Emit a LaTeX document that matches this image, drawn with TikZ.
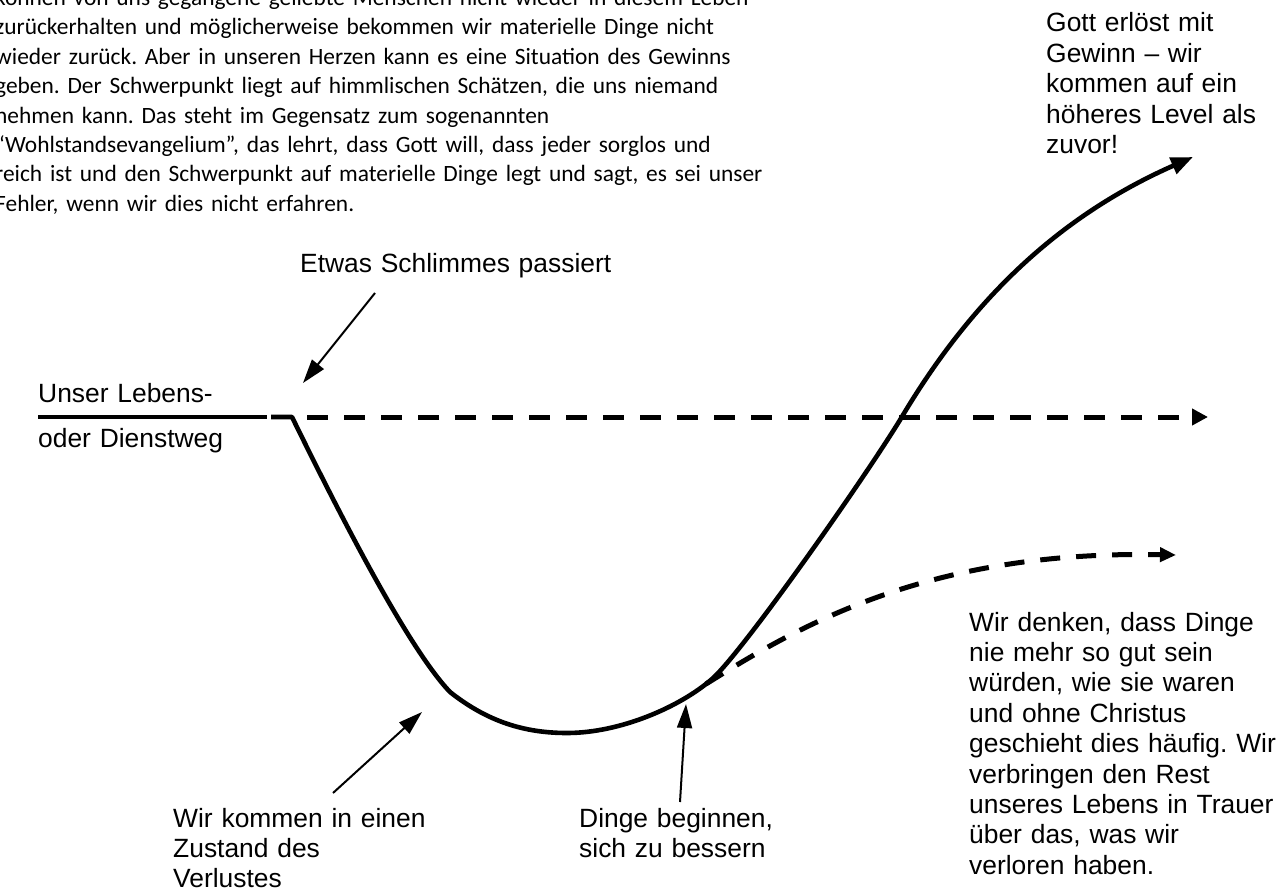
\documentclass[tikz,border=0pt]{standalone}
\usepackage{fontspec}
\setmainfont{Liberation Sans}
\newfontfamily\candarafont{Carlito}
\usetikzlibrary{arrows.meta}
\frenchspacing
\begin{document}
\begin{tikzpicture}[x=1pt,y=-1pt,
  lbl/.style={inner sep=0pt, anchor=base west, align=left, text width=320pt,
              font=\fontsize{26.4}{30.4}\selectfont},
  para/.style={inner sep=0pt, anchor=base west, align=left, text width=900pt,
              font=\candarafont\fontsize{23.4}{29.4}\selectfont},
  mainline/.style={line width=4.6pt, line join=round},
  dashline/.style={line width=5pt, dash pattern=on 21pt off 16pt},
  note/.style={line width=2pt, -{Triangle[length=24pt,width=15pt]}},
]
\useasboundingbox (0,0) rectangle (1287,890);
\clip (0,0) rectangle (1287,890);
\fill[white] (0,0) rectangle (1287,890);

% explanatory paragraph (cut at top and left edge)
\node[para] (story) at (-5,5.6) {können von uns gegangene geliebte Menschen nicht wieder in diesem Leben\\
zurückerhalten und möglicherweise bekommen wir materielle Dinge nicht\\
wieder zurück. Aber in unseren Herzen kann es eine Situation des Gewinns\\
geben. Der Schwerpunkt liegt auf himmlischen Schätzen, die uns niemand\\
nehmen kann. Das steht im Gegensatz zum sogenannten\\
“Wohlstandsevangelium”, das lehrt, dass Gott will, dass jeder sorglos und\\
reich ist und den Schwerpunkt auf materielle Dinge legt und sagt, es sei unser\\
Fehler, wenn wir dies nicht erfahren.};

% labels
\node[lbl] (gott) at (1046,32) {Gott erlöst mit\\ Gewinn – wir\\ kommen auf ein\\ höheres Level als\\ zuvor!};
\node[lbl] (etwas) at (300,273) {Etwas Schlimmes passiert};
\node[lbl] (weg1) at (38,402) {Unser Lebens-};
\node[lbl] (weg2) at (38,447) {oder Dienstweg};
\node[lbl] (verlust) at (173,827) {Wir kommen in einen\\ Zustand des\\ Verlustes};
\node[lbl] (besser) at (579,827) {Dinge beginnen,\\ sich zu bessern};
\node[lbl] (trauer) at (969,631) {Wir denken, dass Dinge\\ nie mehr so gut sein\\ würden, wie sie waren\\ und ohne Christus\\ geschieht dies häufig. Wir\\ verbringen den Rest\\ unseres Lebens in Trauer\\ über das, was wir\\ verloren haben.};

% path of life
\coordinate (w0) at (38,417);
\coordinate (w1) at (267,417);
\coordinate (w2) at (271,417);
\coordinate (turn) at (292,417);
\coordinate (knee) at (450,692);
\coordinate (low) at (567,733);
\coordinate (fork) at (712,679);
\coordinate (cross) at (900,420);
\coordinate (top) at (1193,157);
\coordinate (forkstart) at (706,684);
\coordinate (griefend) at (1176,555);
\coordinate (d0) at (307,417);
\coordinate (d1) at (1208,417);
\draw[mainline] (w0) -- (w1);
\draw[dashline, -{Triangle[length=16pt,width=16pt]}] (d0) -- (d1);

% main curve: loss and redemption
\draw[mainline, -{Triangle[length=22pt,width=17pt]}] (w2) -- (turn)
  .. controls (340,515) and (408,648) .. (knee)
  .. controls (488,722) and (525,733) .. (low)
  .. controls (620,733) and (680,707) .. (fork)
  .. controls (740,655) and (860,485) .. (cross)
  .. controls (965,310) and (1050,220) .. (top);

% dashed branch: staying in grief
\draw[dashline, dash pattern=on 20pt off 16pt, -{Triangle[length=16pt,width=14pt]}]
  (forkstart) .. controls (800,625) and (930,550) .. (griefend);

% annotation arrows
\coordinate (etwasTail) at (375,293);
\coordinate (etwasTip) at (303,383);
\coordinate (verlustTail) at (333,793);
\coordinate (verlustTip) at (422,712);
\coordinate (besserTail) at (680,802);
\coordinate (besserTip) at (686,704);
\draw[note] (etwasTail) -- (etwasTip);
\draw[note] (verlustTail) -- (verlustTip);
\draw[note] (besserTail) -- (besserTip);
\end{tikzpicture}
\end{document}
